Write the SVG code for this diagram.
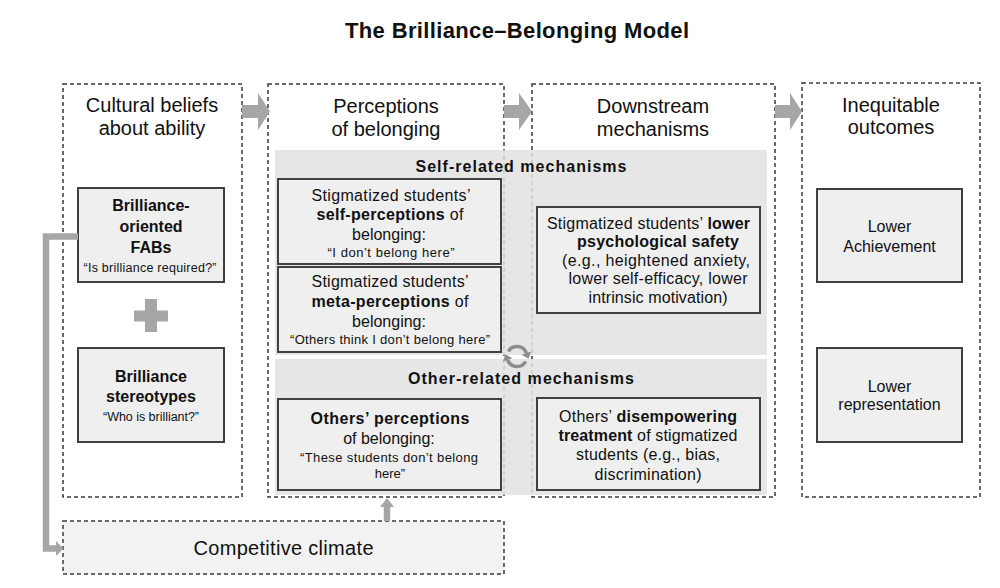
<svg xmlns="http://www.w3.org/2000/svg" width="1000" height="588" viewBox="0 0 1000 588">
<style>
.col{fill:none;stroke:#3a3a3a;stroke-width:1.5;stroke-dasharray:4 3}
.cc{fill:#f2f2f2;stroke:#3a3a3a;stroke-width:1.5;stroke-dasharray:4 3}
.band{fill:#e2e2e2;fill-opacity:0.85}
.box{fill:#efefef;stroke:#404040;stroke-width:2}
.t{font-family:"Liberation Sans",Arial,sans-serif;fill:#111;text-anchor:middle}
.h{font-size:20px}
.n{font-size:16px}
.q{font-size:13px}
.bd{font-weight:bold}
.arr{fill:#a6a6a6}
.ln{fill:none;stroke:#a6a6a6;stroke-width:6.5}
.cyc{fill:none;stroke:#8c8c8c;stroke-width:3.5}
</style>
<rect width="1000" height="588" fill="#fff"/>
<text class="t bd" x="517" y="38" font-size="22" textLength="344">The Brilliance–Belonging Model</text>

<g id="col-cultural">
<rect class="col" x="63" y="84" width="179" height="413"/>
<text class="t h" x="152" y="112">Cultural beliefs</text>
<text class="t h" x="152" y="135">about ability</text>
</g>
<g id="col-perceptions">
<rect class="col" x="268" y="84" width="236" height="413"/>
<text class="t h" x="386" y="113">Perceptions</text>
<text class="t h" x="386" y="136">of belonging</text>
</g>
<g id="col-downstream">
<rect class="col" x="532" y="84" width="243" height="413"/>
<text class="t h" x="653" y="113">Downstream</text>
<text class="t h" x="653" y="136">mechanisms</text>
</g>
<g id="col-outcomes">
<rect class="col" x="802" y="83" width="178" height="414"/>
<text class="t h" x="891" y="112">Inequitable</text>
<text class="t h" x="891" y="134">outcomes</text>
</g>

<g id="band-self">
<rect class="band" x="275" y="150" width="492" height="205"/>
<text class="t n bd" x="521" y="172" textLength="211">Self-related mechanisms</text>
</g>
<g id="band-other">
<rect class="band" x="275" y="359" width="492" height="136"/>
<text class="t n bd" x="521" y="383.5" textLength="226">Other-related mechanisms</text>
</g>

<g id="fabs">
<rect class="box" x="78" y="188" width="146" height="94"/>
<text class="t n bd" x="151" y="210.5">Brilliance-</text>
<text class="t n bd" x="151" y="231.5">oriented</text>
<text class="t n bd" x="151" y="252.5">FABs</text>
<text class="t" x="150" y="271.5" font-size="12.5" textLength="133">“Is brilliance required?”</text>
</g>
<g id="plus">
<rect class="arr" x="134" y="310.5" width="34" height="11"/>
<rect class="arr" x="145" y="299" width="12" height="33"/>
</g>
<g id="stereotypes">
<rect class="box" x="78" y="348" width="146" height="94"/>
<text class="t n bd" x="151" y="382">Brilliance</text>
<text class="t n bd" x="151" y="401.5">stereotypes</text>
<text class="t" x="151" y="421" font-size="12.5" textLength="96">“Who is brilliant?”</text>
</g>

<g id="self-perceptions">
<rect class="box" x="278" y="179" width="223" height="85"/>
<text class="t n" x="391" y="200.5" textLength="159">Stigmatized students’</text>
<text class="t n" x="390" y="219.5" textLength="147"><tspan class="bd">self-perceptions</tspan> of</text>
<text class="t n" x="389" y="240">belonging:</text>
<text class="t q" x="391" y="257" textLength="127">“I don’t belong here”</text>
</g>
<g id="meta-perceptions">
<rect class="box" x="278" y="267" width="223" height="85"/>
<text class="t n" x="390" y="287" textLength="157">Stigmatized students’</text>
<text class="t n" x="390" y="307" textLength="157"><tspan class="bd">meta-perceptions</tspan> of</text>
<text class="t n" x="389" y="327">belonging:</text>
<text class="t q" x="390" y="343.5" textLength="200">“Others think I don’t belong here”</text>
</g>
<g id="others-perceptions">
<rect class="box" x="278" y="399" width="223" height="91"/>
<text class="t n bd" x="390" y="423.5" textLength="159">Others’ perceptions</text>
<text class="t n" x="389" y="444">of belonging:</text>
<text class="t q" x="389" y="461.5" textLength="178">“These students don’t belong</text>
<text class="t q" x="390" y="477.5">here”</text>
</g>

<g id="psych-safety">
<rect class="box" x="537" y="207" width="223" height="106"/>
<text class="t n" x="648.5" y="228.5" textLength="203">Stigmatized students’ <tspan class="bd">lower</tspan></text>
<text class="t n bd" x="658" y="247" textLength="162">psychological safety</text>
<text class="t n" x="656" y="265.5" textLength="188">(e.g., heightened anxiety,</text>
<text class="t n" x="658" y="284" textLength="179">lower self-efficacy, lower</text>
<text class="t n" x="658" y="303" textLength="139">intrinsic motivation)</text>
</g>
<g id="disempowering">
<rect class="box" x="537" y="398" width="223" height="92"/>
<text class="t n" x="648" y="421.5" textLength="178">Others’ <tspan class="bd">disempowering</tspan></text>
<text class="t n" x="648" y="441" textLength="179"><tspan class="bd">treatment</tspan> of stigmatized</text>
<text class="t n" x="648" y="460" textLength="144">students (e.g., bias,</text>
<text class="t n" x="648" y="479.5" textLength="107">discrimination)</text>
</g>

<g id="achievement">
<rect class="box" x="817" y="189" width="145" height="93"/>
<text class="t n" x="889.5" y="231.5">Lower</text>
<text class="t n" x="889.5" y="251.5">Achievement</text>
</g>
<g id="representation">
<rect class="box" x="817" y="348" width="145" height="94"/>
<text class="t n" x="889.5" y="391.5">Lower</text>
<text class="t n" x="889.5" y="409.5">representation</text>
</g>

<g id="competitive-climate">
<rect class="cc" x="63" y="521" width="441" height="53"/>
<text class="t" x="283.5" y="555" font-size="20" textLength="180">Competitive climate</text>
</g>

<g id="connectors">
<polygon class="arr" points="242,105 258,105 258,93 270,111.5 258,130 258,118 242,118"/>
<polygon class="arr" points="504,105 519,105 519,93 532,111.5 519,130 519,118 504,118"/>
<polygon class="arr" points="775,105 790,105 790,93 802,111.5 790,130 790,118 775,118"/>
<polyline class="ln" points="78,236.5 46,236.5 46,548.5 57,548.5"/>
<polygon class="arr" points="56,541 63.5,548.5 56,556"/>
<line class="ln" x1="387" y1="521" x2="387" y2="505" stroke-width="7.5"/>
<polygon class="arr" points="380,507 387,498 394,507"/>
<path class="cyc" d="M508.3,351.5 A10,10 0 0 1 526.4,353.1"/>
<polygon fill="#8c8c8c" points="528.5,358.7 531.1,351.4 521.7,354.8"/>
<path class="cyc" d="M525.7,361.5 A10,10 0 0 1 507.6,359.9"/>
<polygon fill="#8c8c8c" points="505.5,354.3 502.9,361.6 512.3,358.2"/>
</g>
</svg>
